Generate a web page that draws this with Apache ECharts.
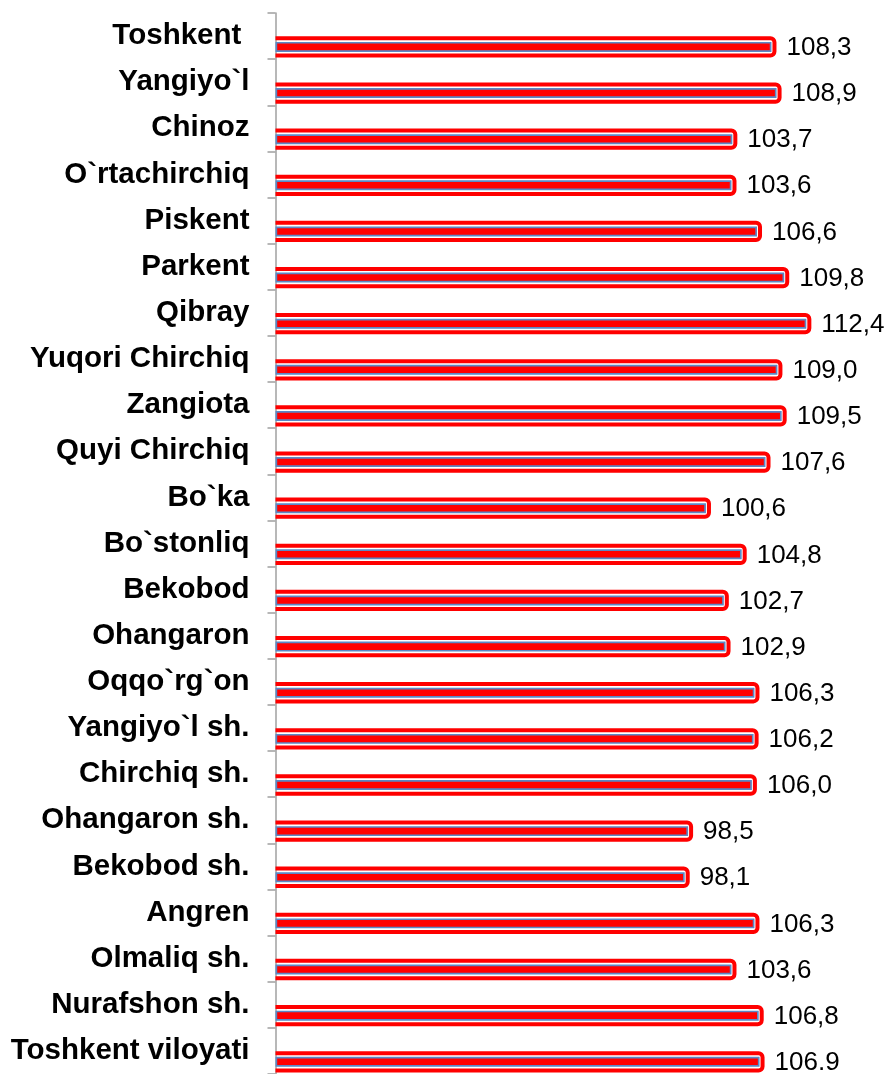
<!DOCTYPE html>
<html>
<head>
<meta charset="utf-8">
<script src="https://cdn.jsdelivr.net/npm/echarts@6/dist/echarts.min.js"></script>
<style>
  html, body { margin: 0; padding: 0; background: #ffffff; }
  #chart { width: 890px; height: 1074px; }
</style>
</head>
<body>
<div id="chart"></div>
<script>
// Districts and cities of Toshkent viloyati, top to bottom
const categories = [
  'Toshkent ', 'Yangiyo`l', 'Chinoz', 'O`rtachirchiq', 'Piskent', 'Parkent',
  'Qibray', 'Yuqori Chirchiq', 'Zangiota', 'Quyi Chirchiq', 'Bo`ka',
  'Bo`stonliq', 'Bekobod', 'Ohangaron', 'Oqqo`rg`on', 'Yangiyo`l sh.',
  'Chirchiq sh.', 'Ohangaron sh.', 'Bekobod sh.', 'Angren', 'Olmaliq sh.',
  'Nurafshon sh.', 'Toshkent viloyati'
];

// Index values (%)
const values = [
  108.3, 108.9, 103.7, 103.6, 106.6, 109.8, 112.4, 109.0, 109.5, 107.6, 100.6,
  104.8, 102.7, 102.9, 106.3, 106.2, 106.0, 98.5, 98.1, 106.3, 103.6, 106.8, 106.9
];

// Printed value labels
const valueLabels = [
  '108,3', '108,9', '103,7', '103,6', '106,6', '109,8', '112,4', '109,0', '109,5',
  '107,6', '100,6', '104,8', '102,7', '102,9', '106,3', '106,2', '106,0', '98,5',
  '98,1', '106,3', '103,6', '106,8', '106.9'
];

const AXIS_MIN = 50;
const AXIS_MAX = 120;

const RED = '#ff0000';
const STEEL = '#5a88c6';

// Each bar: red fill with a steel-blue edge, wrapped in a rounded red outline
function renderBar(params, api) {
  const val = api.value(0);
  const idx = api.value(1);
  const start = api.coord([AXIS_MIN, idx]);
  const end = api.coord([val, idx]);
  const band = api.size([0, 1])[1];
  const cy = start[1] + band * 0.235;
  const x0 = start[0];
  const x1 = end[0];

  // outline path (open on the axis side)
  const oh = band * 0.375;
  const top = cy - oh / 2;
  const bot = cy + oh / 2;
  const r = 4;
  const ox = x1 + 3;
  const d = 'M' + x0 + ' ' + top +
    ' L' + (ox - r) + ' ' + top +
    ' A' + r + ' ' + r + ' 0 0 1 ' + ox + ' ' + (top + r) +
    ' L' + ox + ' ' + (bot - r) +
    ' A' + r + ' ' + r + ' 0 0 1 ' + (ox - r) + ' ' + bot +
    ' L' + x0 + ' ' + bot;

  const ih = band * 0.216;
  const lw = 1.7;

  return {
    type: 'group',
    children: [
      {
        type: 'path',
        shape: { pathData: d },
        style: { fill: null, stroke: RED, lineWidth: 4 }
      },
      {
        type: 'rect',
        shape: { x: x0 + lw / 2, y: cy - ih / 2 + lw / 2, width: x1 - x0 - lw, height: ih - lw },
        style: { fill: RED, stroke: STEEL, lineWidth: lw }
      },
      {
        type: 'text',
        style: {
          text: valueLabels[idx],
          x: x1 + 15,
          y: cy + 1,
          fill: '#000000',
          font: '26px "Liberation Sans", Arial, sans-serif',
          align: 'left',
          verticalAlign: 'middle',
          textAlign: 'left',
          textVerticalAlign: 'middle'
        }
      }
    ]
  };
}

const chart = echarts.init(document.getElementById('chart'), null, { renderer: 'canvas' });

chart.setOption({
  animation: false,
  backgroundColor: '#ffffff',
  grid: { left: 275.5, right: 19, top: 13, bottom: -2.3 },
  xAxis: {
    type: 'value',
    min: AXIS_MIN,
    max: AXIS_MAX,
    show: false
  },
  yAxis: {
    type: 'category',
    data: categories,
    inverse: true,
    axisLine: { show: true, lineStyle: { color: '#a0a0a0', width: 1.5 } },
    axisTick: { show: true, length: 8, lineStyle: { color: '#a0a0a0', width: 1.5 } },
    axisLabel: {
      color: '#000000',
      fontSize: 29.5,
      fontWeight: 'bold',
      fontFamily: '"Liberation Sans", Arial, sans-serif',
      margin: 26,
      padding: [5, 0, 0, 0]
    },
    splitLine: { show: false }
  },
  series: [
    {
      type: 'custom',
      clip: false,
      renderItem: renderBar,
      encode: { x: 0, y: 1 },
      data: values.map(function (v, i) { return [v, i]; })
    }
  ]
});
</script>
</body>
</html>
